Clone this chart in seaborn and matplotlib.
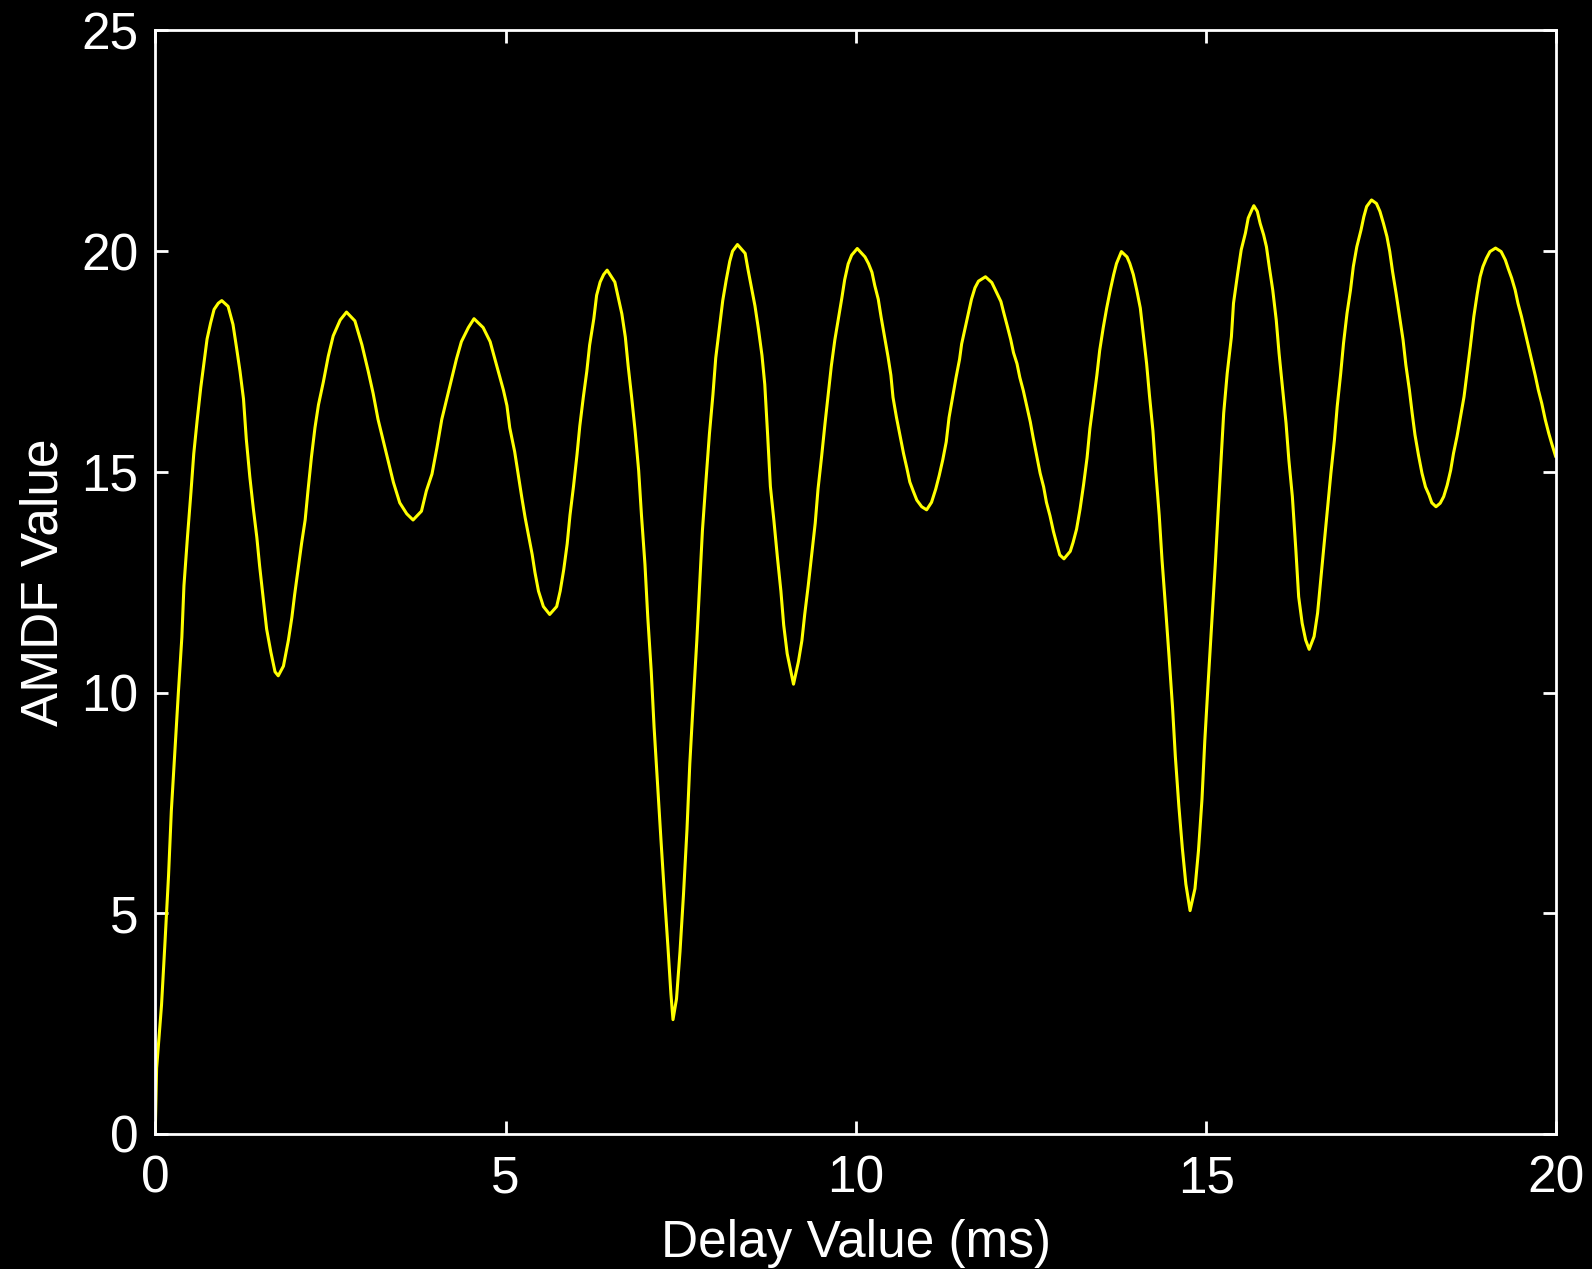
import matplotlib
matplotlib.use("Agg")
import matplotlib.pyplot as plt
import seaborn as sns
import pandas as pd

# AMDF curve: delay (ms) and AMDF value
delay_ms = [
    0.00, 0.02, 0.09, 0.14, 0.19, 0.23, 0.28, 0.33, 0.38, 0.41, 0.46, 0.51, 0.55, 0.60, 0.65, 0.70,
    0.74, 0.79, 0.84, 0.90, 0.95,
    1.04, 1.11, 1.16, 1.21, 1.26, 1.30, 1.35, 1.40, 1.45, 1.49, 1.54, 1.59, 1.65, 1.71, 1.756,
    1.83, 1.90, 1.95, 1.99, 2.04, 2.09, 2.14, 2.18, 2.23, 2.28, 2.33, 2.40, 2.47, 2.54, 2.64, 2.73,
    2.85, 2.95, 3.04, 3.11, 3.18, 3.26, 3.33, 3.40, 3.49, 3.59, 3.68,
    3.80, 3.87, 3.95, 4.02, 4.09, 4.16, 4.23, 4.30, 4.37, 4.47, 4.55,
    4.68, 4.78, 4.87, 4.97, 5.02, 5.06, 5.13, 5.18, 5.23, 5.28, 5.33, 5.38, 5.42, 5.47, 5.54, 5.63,
    5.73, 5.78, 5.83, 5.88, 5.92, 5.97, 6.02, 6.06, 6.11, 6.16, 6.20, 6.26, 6.30, 6.35, 6.40, 6.45,
    6.56, 6.61, 6.66, 6.71, 6.75, 6.80, 6.85, 6.90, 6.94, 6.99, 7.03, 7.08, 7.12, 7.17, 7.22, 7.27,
    7.32, 7.36, 7.39,
    7.44, 7.49, 7.54, 7.59, 7.63, 7.68, 7.73, 7.77, 7.81, 7.86, 7.91, 7.96, 8.00, 8.05, 8.10, 8.15,
    8.20, 8.24, 8.31,
    8.42, 8.46, 8.51, 8.56, 8.61, 8.66, 8.70, 8.74, 8.78, 8.83, 8.88, 8.93, 8.97, 9.02, 9.11,
    9.18, 9.23, 9.27, 9.32, 9.37, 9.42, 9.46, 9.51, 9.56, 9.61, 9.65, 9.70, 9.75, 9.80, 9.84, 9.89,
    9.94, 10.02,
    10.13, 10.18, 10.23, 10.27, 10.32, 10.36, 10.41, 10.46, 10.50, 10.53, 10.58, 10.63, 10.68, 10.73,
    10.77, 10.82, 10.87, 10.94, 11.01,
    11.08, 11.14, 11.19, 11.24, 11.29, 11.33, 11.38, 11.43, 11.48, 11.51, 11.56, 11.61, 11.65, 11.70,
    11.75, 11.85,
    11.94, 12.01, 12.07, 12.11, 12.16, 12.21, 12.25, 12.30, 12.34, 12.39, 12.44, 12.49, 12.53, 12.58,
    12.63, 12.68, 12.72, 12.77, 12.82, 12.87, 12.91, 12.97,
    13.06, 13.10, 13.15, 13.20, 13.25, 13.30, 13.34, 13.39, 13.44, 13.48, 13.53, 13.58, 13.63, 13.68,
    13.72, 13.79,
    13.87, 13.91, 13.96, 14.01, 14.06, 14.10, 14.15, 14.19, 14.24, 14.28, 14.33, 14.37, 14.42, 14.47,
    14.52, 14.56, 14.61, 14.66, 14.71, 14.77,
    14.84, 14.89, 14.94, 14.98, 15.03, 15.08, 15.13, 15.17, 15.21, 15.25, 15.30, 15.36, 15.39, 15.45,
    15.50, 15.56, 15.60, 15.65, 15.68,
    15.73, 15.77, 15.82, 15.86, 15.90, 15.95, 16.00, 16.04, 16.09, 16.14, 16.18, 16.23, 16.28, 16.32,
    16.37, 16.42, 16.47,
    16.54, 16.59, 16.63, 16.68, 16.73, 16.78, 16.83, 16.87, 16.92, 16.96, 17.01, 17.06, 17.10, 17.15,
    17.21, 17.25, 17.29, 17.36,
    17.43, 17.48, 17.53, 17.58, 17.62, 17.66, 17.71, 17.76, 17.81, 17.85, 17.90, 17.94, 17.98, 18.03,
    18.08, 18.13, 18.18, 18.22, 18.28,
    18.34, 18.39, 18.44, 18.49, 18.53, 18.58, 18.63, 18.68, 18.72, 18.77, 18.82, 18.87, 18.91, 18.95,
    19.00, 19.05, 19.13,
    19.21, 19.27, 19.31, 19.36, 19.41, 19.45, 19.50, 19.55, 19.60, 19.65, 19.70, 19.74, 19.79, 19.84,
    19.89, 19.93, 19.99,
]

amdf_value = [
    0.00, 1.49, 2.92, 4.36, 5.85, 7.32, 8.65, 9.99, 11.25, 12.42, 13.52, 14.54, 15.41, 16.19, 16.91, 17.53,
    18.01, 18.37, 18.68, 18.82, 18.88,
    18.75, 18.34, 17.82, 17.28, 16.65, 15.74, 14.89, 14.17, 13.52, 12.87, 12.16, 11.44, 10.92, 10.47, 10.38,
    10.60, 11.18, 11.70, 12.22, 12.81, 13.39, 13.91, 14.57, 15.34, 16.00, 16.52, 17.04, 17.62, 18.08, 18.44, 18.62,
    18.42, 17.88, 17.28, 16.78, 16.19, 15.67, 15.21, 14.76, 14.30, 14.05, 13.91,
    14.11, 14.57, 14.95, 15.54, 16.19, 16.65, 17.10, 17.56, 17.95, 18.27, 18.47,
    18.27, 17.95, 17.43, 16.85, 16.50, 16.00, 15.46, 14.95, 14.44, 13.96, 13.55, 13.13, 12.72, 12.30, 11.95, 11.77,
    11.95, 12.30, 12.78, 13.37, 14.02, 14.67, 15.39, 16.04, 16.69, 17.28, 17.87, 18.47, 19.00, 19.30, 19.47, 19.57,
    19.30, 18.94, 18.58, 18.05, 17.40, 16.69, 15.92, 15.03, 14.02, 12.90, 11.71, 10.47, 9.22, 7.92, 6.62, 5.37,
    4.19, 3.18, 2.59,
    3.06, 4.13, 5.43, 6.91, 8.39, 9.82, 11.18, 12.42, 13.67, 14.79, 15.86, 16.75, 17.58, 18.23, 18.88, 19.35,
    19.77, 20.00, 20.15,
    19.95, 19.59, 19.18, 18.76, 18.23, 17.64, 16.98, 15.86, 14.67, 13.90, 13.07, 12.30, 11.53, 10.88, 10.19,
    10.70, 11.18, 11.77, 12.42, 13.13, 13.84, 14.61, 15.33, 16.10, 16.81, 17.40, 17.99, 18.47, 18.94, 19.35, 19.71,
    19.91, 20.06,
    19.87, 19.72, 19.52, 19.22, 18.91, 18.51, 18.05, 17.60, 17.19, 16.69, 16.23, 15.83, 15.42, 15.07,
    14.77, 14.56, 14.36, 14.21, 14.14,
    14.31, 14.61, 14.92, 15.27, 15.68, 16.23, 16.69, 17.14, 17.55, 17.90, 18.26, 18.61, 18.91, 19.17,
    19.32, 19.42,
    19.29, 19.06, 18.86, 18.61, 18.31, 18.00, 17.70, 17.45, 17.14, 16.84, 16.49, 16.13, 15.78, 15.37,
    14.97, 14.66, 14.31, 14.01, 13.65, 13.35, 13.12, 13.03,
    13.20, 13.40, 13.70, 14.16, 14.71, 15.32, 15.98, 16.59, 17.19, 17.75, 18.26, 18.71, 19.11, 19.47,
    19.72, 19.99,
    19.87, 19.72, 19.47, 19.11, 18.71, 18.15, 17.45, 16.74, 15.93, 15.02, 14.01, 13.00, 11.93, 10.82,
    9.66, 8.55, 7.43, 6.47, 5.66, 5.06,
    5.56, 6.42, 7.58, 8.90, 10.27, 11.58, 12.91, 14.08, 15.19, 16.33, 17.23, 18.06, 18.82, 19.50,
    20.03, 20.41, 20.75, 20.93, 21.03,
    20.90, 20.63, 20.37, 20.10, 19.65, 19.12, 18.44, 17.69, 16.89, 16.10, 15.27, 14.44, 13.23, 12.17,
    11.57, 11.19, 10.98,
    11.27, 11.80, 12.48, 13.31, 14.14, 14.97, 15.72, 16.48, 17.23, 17.91, 18.59, 19.12, 19.65, 20.10,
    20.48, 20.78, 21.01, 21.16,
    21.08, 20.90, 20.63, 20.33, 19.99, 19.54, 19.05, 18.52, 17.99, 17.42, 16.86, 16.33, 15.84, 15.38,
    14.97, 14.66, 14.48, 14.30, 14.21,
    14.29, 14.44, 14.70, 15.04, 15.42, 15.80, 16.25, 16.70, 17.20, 17.84, 18.52, 19.05, 19.42, 19.65,
    19.84, 19.99, 20.07,
    19.99, 19.80, 19.61, 19.39, 19.12, 18.82, 18.52, 18.18, 17.84, 17.50, 17.16, 16.86, 16.55, 16.18,
    15.87, 15.65, 15.34,
]

x_ticks = [0, 5, 10, 15, 20]
y_ticks = [0, 5, 10, 15, 20, 25]

df = pd.DataFrame({"delay": delay_ms, "amdf": amdf_value})

sns.set_style("ticks", {
    "axes.facecolor": "black",
    "figure.facecolor": "black",
    "axes.edgecolor": "white",
    "xtick.color": "white",
    "ytick.color": "white",
    "text.color": "white",
    "axes.labelcolor": "white",
    "xtick.direction": "in",
    "ytick.direction": "in",
})
plt.rcParams["font.family"] = ["Liberation Sans", "DejaVu Sans"]

fig = plt.figure(figsize=(15.92, 12.69), dpi=100)
ax = fig.add_axes([0.0975, 0.1064, 0.8802, 0.8696])

sns.lineplot(data=df, x="delay", y="amdf", ax=ax, color="#ffff00",
             linewidth=2.2, estimator=None, sort=False)

ax.set_xlim(0, 20)
ax.set_ylim(0, 25)
ax.set_xticks(x_ticks)
ax.set_yticks(y_ticks)
ax.set_xticklabels([str(t) for t in x_ticks])
ax.set_yticklabels([str(t) for t in y_ticks])

for side in ["top", "right", "bottom", "left"]:
    ax.spines[side].set_visible(True)
    ax.spines[side].set_color("white")
    ax.spines[side].set_linewidth(2.0)

ax.tick_params(axis="both", which="major", direction="in", length=9.5, width=2.0,
               colors="white", labelsize=37, top=True, right=True)
ax.tick_params(axis="x", pad=15)
ax.tick_params(axis="y", pad=12)

ax.set_xlabel("Delay Value (ms)", fontsize=37, color="white", labelpad=11)
ax.set_ylabel("AMDF Value", fontsize=37, color="white", labelpad=9)

fig.savefig("out.png", dpi=100, facecolor="black")
